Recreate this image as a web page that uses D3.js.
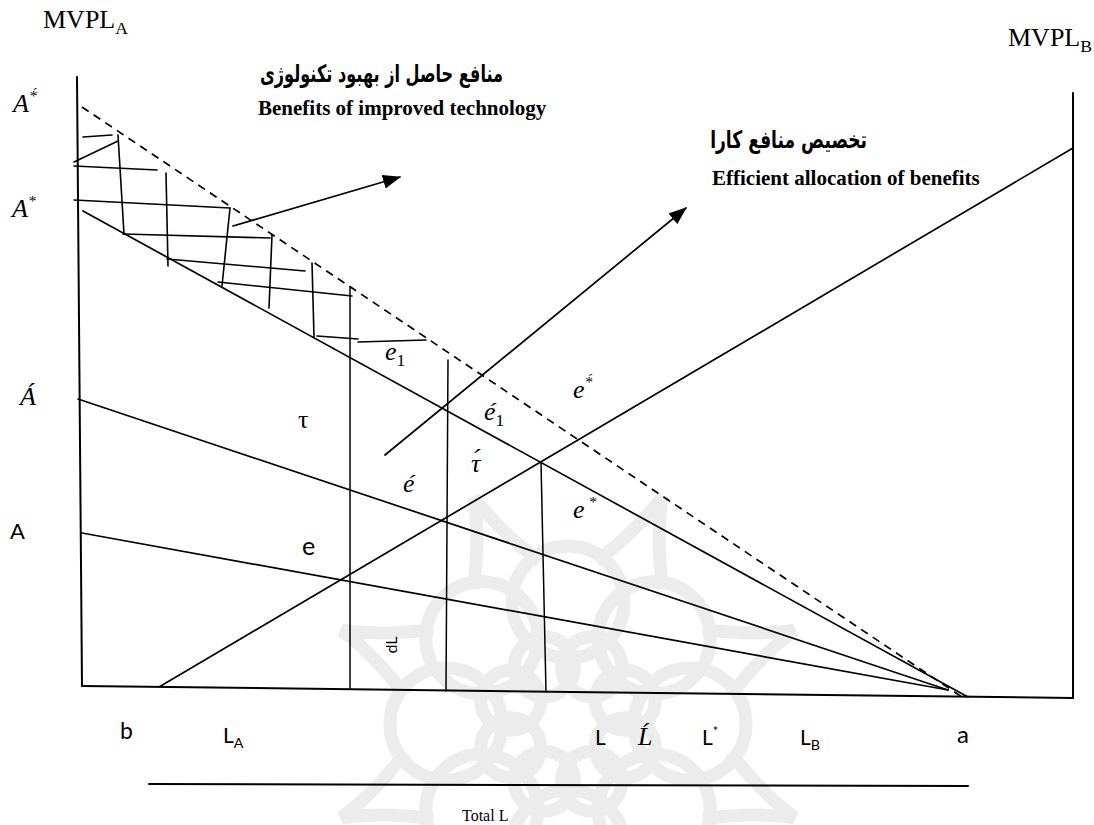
<!DOCTYPE html>
<html>
<head>
<meta charset="utf-8">
<script src="https://cdn.jsdelivr.net/npm/d3@7"></script>
<style>
html, body { margin: 0; padding: 0; background: #fff; }
svg { display: block; }
</style>
</head>
<body>
<div id="chart"></div>
<script>
const W = 1094, H = 825;

// diagram units: origin at corner b (bottom-left), y grows upward
const axisLines = [
    [[-5, 609], [0, 0]],          // MVPL_A axis
    [[991, 593], [991, -12]],     // MVPL_B axis
    [[0, 0], [991, -12]]          // labour axis
];
// MVPL_A schedules, all falling to a
const mvplALines = [
    [[1, 475], [886, -11]],       // A*
    [[-4, 287], [866, -4]],       // Á
    [[0, 153], [866, -4]]         // A
];
const mvplBLine = [[77, -1], [991, 538]];
const improvedLine = [[0, 579], [880, -11]];   // dashed, A´*
const dropLines = [
    [[268, 399], [268, -3]],
    [[366, 326], [364, -5]],
    [[459, 224], [464, -6]]
];
const totalLine = [[67, -98], [886, -100]];
const arrows = [
    [[151, 460], [318, 509]],
    [[303, 231], [604, 478]]
];
// cross hatching of the technology gain
const hatch = [
    [[1, 549], [30, 551]],
    [[-8, 524], [36, 545]],
    [[-8, 520], [75, 516]],
    [[-8, 486], [148, 478]],
    [[41, 452], [188, 448]],
    [[85, 427], [223, 415]],
    [[136, 404], [270, 390]],
    [[235, 350], [276, 347]],
    [[276, 344], [344, 346]],
    [[36, 551], [42, 452]],
    [[84, 513], [86, 420]],
    [[148, 478], [140, 400]],
    [[190, 451], [187, 378]],
    [[230, 423], [232, 349]]
];

// labels: [text, kind] parts
const mathLabels = [
    {x: -69, y: 574, parts: [['A'], ['*\u0301', 'sup']]},
    {x: -70, y: 469, parts: [['A'], ['*', 'sup']]},
    {x: -62, y: 281, parts: [['Á']]},
    {x: 303, y: 326, parts: [['e'], ['1', 'sub']]},
    {x: 402, y: 266, parts: [['é'], ['1', 'sub']]},
    {x: 321, y: 194, parts: [['é']]},
    {x: 389, y: 214, parts: [['τ\u0301']]},
    {x: 491, y: 288, parts: [['e'], ['*\u0301', 'sup']]},
    {x: 491, y: 168, parts: [['e'], [' *', 'sup']]},
    {x: 556, y: -59, parts: [['Ĺ']]}
];
const sansLabels = [
    {x: -72, y: 147, size: 22, parts: [['A']]},
    {x: 220, y: 131, size: 25, parts: [['e']]},
    {x: 38, y: -53, size: 23, parts: [['b']]},
    {x: 141, y: -57, size: 21, parts: [['L'], ['A', 'sub']]},
    {x: 513, y: -59, size: 21, parts: [['L']]},
    {x: 620, y: -59, size: 21, parts: [['L'], ['*', 'sup']]},
    {x: 718, y: -59, size: 21, parts: [['L'], ['B', 'sub']]},
    {x: 875, y: -57, size: 24, parts: [['a']]}
];
const serifLabels = [
    {x: -39, y: 658, size: 26, parts: [['MVPL'], ['A', 'sub']]},
    {x: 926, y: 640, size: 26, parts: [['MVPL'], ['B', 'sub']]},
    {x: 380, y: -135, size: 16, parts: [['Total L']]}
];
const titles = [
    {x: 421, y: 604, width: 243, fa: 'منافع حاصل از بهبود تکنولوژی'},
    {x: 176, y: 571, en: 'Benefits of improved technology'},
    {x: 785, y: 538, width: 157, fa: 'تخصیص منافع کارا'},
    {x: 630, y: 501, en: 'Efficient allocation of benefits'}
];
const tauLabel = {x: 216, y: 258};
const dLLabel = {x: 309, y: 41};
const rosetteCenter = [486, -38];

const x = d3.scaleLinear().domain([0, 1000]).range([82, 1082]);
const y = d3.scaleLinear().domain([0, 610]).range([686, 76]);

const svg = d3.select('#chart').append('svg')
    .attr('width', W).attr('height', H)
    .attr('viewBox', [0, 0, W, H]);

svg.append('defs').append('marker')
    .attr('id', 'head')
    .attr('markerUnits', 'userSpaceOnUse')
    .attr('markerWidth', 18).attr('markerHeight', 14)
    .attr('viewBox', '0 0 18 14')
    .attr('refX', 17).attr('refY', 7)
    .attr('orient', 'auto')
    .append('path')
    .attr('d', 'M0,0 L18,7 L0,14 Z')
    .attr('fill', '#000');

// ---------- faint rosette watermark ----------
const wm = svg.append('g')
    .attr('fill', 'none')
    .attr('stroke', '#ececec')
    .attr('stroke-width', 13);
const cx = x(rosetteCenter[0]), cy = y(rosetteCenter[1]);
const polar = (r, a) => [cx + r * Math.cos(a), cy + r * Math.sin(a)];
d3.range(8).forEach(k => {
    const a = k * Math.PI / 4;
    const p1 = polar(122, a), p2 = polar(62, a + Math.PI / 8);
    wm.append('circle').attr('cx', p1[0]).attr('cy', p1[1]).attr('r', 56);
    wm.append('circle').attr('cx', p2[0]).attr('cy', p2[1]).attr('r', 30);
    const b = a + Math.PI / 8;
    const path = d3.path();
    const s = polar(165, b - 0.22), m1 = polar(205, b - 0.05), t = polar(245, b),
        m2 = polar(205, b + 0.05), e = polar(165, b + 0.22);
    path.moveTo(...s);
    path.quadraticCurveTo(...m1, ...t);
    path.quadraticCurveTo(...m2, ...e);
    wm.append('path').attr('d', path.toString());
});

// ---------- lines ----------
const seg = (g, data, cls) => g.selectAll(null)
    .data(data)
    .join('line')
    .attr('class', cls)
    .attr('x1', d => x(d[0][0])).attr('y1', d => y(d[0][1]))
    .attr('x2', d => x(d[1][0])).attr('y2', d => y(d[1][1]));

const lines = svg.append('g')
    .attr('stroke', '#000')
    .attr('stroke-width', 1.7)
    .attr('stroke-linecap', 'round');

seg(lines, hatch, 'hatch').attr('stroke-width', 1.6);
seg(lines, axisLines, 'axis').attr('stroke-width', 2);
seg(lines, mvplALines, 'mvpl-a');
seg(lines, [mvplBLine], 'mvpl-b');
seg(lines, dropLines, 'drop').attr('stroke-width', 1.5);
seg(lines, [improvedLine], 'improved')
    .attr('stroke-dasharray', '8 6')
    .attr('stroke-linecap', 'butt');
seg(lines, [totalLine], 'total').attr('stroke-width', 2);
seg(lines, arrows, 'arrow').attr('marker-end', 'url(#head)');

// ---------- text ----------
function addLabel(g, d, family, size, style) {
    const t = g.append('text')
        .attr('x', x(d.x)).attr('y', y(d.y))
        .attr('font-family', family)
        .attr('font-size', size)
        .attr('font-style', style || 'normal')
        .attr('fill', '#000');
    let shift = 0;
    d.parts.forEach(([str, kind]) => {
        const sp = t.append('tspan').text(str);
        let target = 0;
        if (kind === 'sub') {
            target = size * 0.22;
            sp.attr('font-size', size * 0.68).attr('font-style', 'normal');
        }
        if (kind === 'sup') { target = -size * 0.42; sp.attr('font-size', size * 0.6); }
        if (target !== shift) sp.attr('dy', target - shift);
        shift = target;
    });
    return t;
}

const txt = svg.append('g');
mathLabels.forEach(d => addLabel(txt, d, '"Liberation Serif", "DejaVu Serif", serif', 26, 'italic'));
sansLabels.forEach(d => addLabel(txt, d, 'Lato, "Open Sans", sans-serif', d.size));
serifLabels.forEach(d => addLabel(txt, d, '"Liberation Serif", "Times New Roman", serif', d.size));

txt.append('text')
    .attr('x', x(tauLabel.x)).attr('y', y(tauLabel.y))
    .attr('font-family', '"Liberation Serif", serif')
    .attr('font-size', 26)
    .text('τ');

txt.append('text')
    .attr('transform', `translate(${x(dLLabel.x)},${y(dLLabel.y)}) rotate(-90)`)
    .attr('text-anchor', 'middle')
    .attr('dy', '0.35em')
    .attr('font-family', 'Lato, sans-serif')
    .attr('font-size', 16)
    .text('dL');

titles.forEach(d => {
    if (d.en) {
        txt.append('text')
            .attr('x', x(d.x)).attr('y', y(d.y))
            .attr('font-family', '"Liberation Serif", "Times New Roman", serif')
            .attr('font-weight', 'bold')
            .attr('font-size', 21)
            .text(d.en);
    } else {
        // Persian line: taller glyphs squeezed to the measured width
        const g = txt.append('g')
            .attr('transform', `translate(${x(d.x)},${y(d.y)})`);
        const t = g.append('text')
            .attr('direction', 'rtl')
            .attr('text-anchor', 'start')
            .attr('font-family', '"DejaVu Sans", sans-serif')
            .attr('font-weight', 'bold')
            .attr('font-size', 24)
            .text(d.fa);
        const len = t.node().getComputedTextLength();
        if (len > 0) t.attr('transform', `scale(${d.width / len},1)`);
    }
});
</script>
</body>
</html>
